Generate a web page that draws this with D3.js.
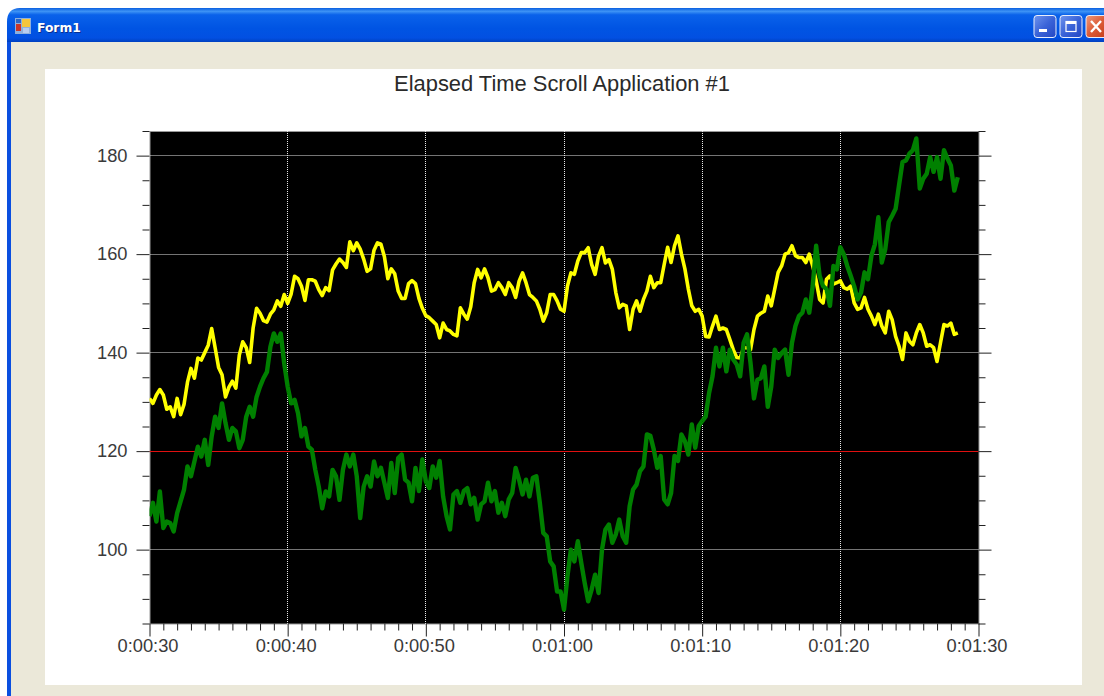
<!DOCTYPE html>
<html><head><meta charset="utf-8">
<script src="https://d3js.org/d3.v7.min.js"></script>
<style>html,body{margin:0;padding:0;background:#fff;overflow:hidden}svg{display:block}</style>
</head><body><svg id="c" width="1104" height="696"></svg>
<script>
const chartTitle = "Elapsed Time Scroll Application #1";
const windowTitle = "Form1";
const sampleStepSeconds = 0.25;
const startSeconds = 30;
const majorXTicks = [30,40,50,60,70,80,90];
const majorYTicks = [100,120,140,160,180];
const referenceLevel = 120;
const yellowValues = [130.7,129.7,131.4,132.5,131.4,128.5,129,127,130.7,127.4,129.5,134,136.8,134.8,138.9,138.5,140,141.5,144.9,141,137,135.5,131,133,134.2,132.8,139.5,142.2,141,138,
145,149,148,146.5,146.2,147.8,148.7,150.5,149.4,151.8,150,151.9,155.5,155,153.5,150.6,154.8,154.8,154.5,152.8,151.6,153.2,152.6,156.8,158,159,158.3,157.3,162.5,160.7,
162.3,161,159,156.5,157,160.8,162.3,162,159.5,155,157,156,152.5,151,151,154,154.6,154,151,149,
147.5,147.1,146.4,145.7,143,146,144.7,144.4,143.7,143.4,149.1,147.8,146.8,149.3,154.2,156.9,155.2,157,155.2,152.5,152.8,154.2,153.2,151.8,154.2,153.2,151.2,154.5,156.2,154.2,
151.8,151.2,150.5,148.8,146.4,148.1,151.8,151.8,150.5,148.8,148.4,153.5,156.2,155.9,158.6,160.3,160.3,161.3,157.9,155.9,159.6,161.3,158.2,158.9,156.9,152.2,149.1,149.8,149.5,144.7,
148.8,150.5,148.4,150.8,152.5,155.5,153.2,154.2,154.2,157.9,161.4,158.3,161.7,163.7,160,157,152.9,149.5,148.4,148.8,147.4,143.3,143.2,145.4,147.4,144.7,145,144.7,142.7,140.6,
139,138.9,141,141,140.6,144.7,147.4,148,148.4,151.5,149.5,152.9,156.3,157.6,160,160.3,161.7,159.7,159.3,159.3,158.3,160,157.6,154.6,150.8,150.1,154.9,155.6,153.9,154.2,
154.6,153.2,152.9,153.5,150.1,148.8,149.1,151.2,148.8,147.4,145.7,147.8,145.4,144,148.4,146.7,143.3,141.3,138.6,144,142.3,141.6,144,145.7,144,141.3,141.6,141,138.2,142,
145.7,145.4,146,143.7,144];
const greenValues = [106.8,109.5,105.7,111.8,104.4,105.7,105.4,103.7,107.4,109.8,112.2,116.9,114.9,117.9,120.9,118.9,122.3,117.2,123,127,124.7,129.7,125.7,122.3,124.7,124,120.6,122.3,127,129,
127,131,133.1,134.8,136.1,141.2,143.9,142.2,143.9,137.8,133.1,129.7,130.4,127.7,123,124.7,120.9,120.3,116.2,112.8,108.4,111.8,110.8,116.2,114.9,110.1,116.2,119.3,116.9,119.3,
114.9,106.4,112.8,114.9,112.8,117.9,114.9,116.6,113.6,110.5,117.6,111.5,118.6,119.3,114.2,113.6,109.8,116.6,111.9,118.3,
113.9,112.5,116.9,114.6,118,110.8,106.8,104.1,111.2,111.9,109.5,111.9,112.5,109.2,110.5,106.1,109.2,109.8,113.6,109.8,111.9,107.5,109.5,106.8,110.2,111.5,116.6,114.2,111.2,114.2,
110.8,114.6,114.9,109.5,103.4,102.7,97.6,96.6,91.5,91.5,87.8,94.6,100,97.6,101.7,97.3,93.2,89.5,91.9,94.9,91.2,100,104.1,105.1,101.4,103.1,106.1,102.7,101.4,108.8,
112.2,113.2,115.9,116.9,123.4,123.1,120.3,116.6,119,110.2,109.2,111.5,119,118,123.4,122,119.3,125.4,120.7,125.1,
126.1,127,131.8,135.2,141,137.2,141,136.2,140.6,138.6,137.6,135.2,142,143.7,137.9,130.7,134.5,134.8,137.2,129,133.1,140.6,138.9,139.9,140.6,135.5,142,145.4,147.4,148.1,
150.8,148.1,153.5,161.7,155.6,153.5,152.9,149.5,157.6,156.9,161.4,160,157.6,155.6,153.5,150.8,152.2,156.3,154.9,159.7,162,167.5,158.3,161,166.5,167.8,169.2,174,178.7,179,
180.4,181.1,183.5,173.3,175.3,176.3,179.7,176.7,179.7,175.3,181.1,179.4,178,172.9,175.6];

const svg = d3.select("#c");
const defs = svg.append("defs");
const tg = defs.append("linearGradient").attr("id","bar").attr("x1",0).attr("x2",0).attr("y1",0).attr("y2",1);
[[0,"#0a5fe0"],[0.1,"#3d93f5"],[0.2,"#0a62ea"],[0.6,"#0054e3"],[0.88,"#0250e2"],[1,"#0040c0"]].forEach(([o,c])=>tg.append("stop").attr("offset",o).attr("stop-color",c));
const bg = defs.append("linearGradient").attr("id","btn").attr("x1",0).attr("x2",1).attr("y1",0).attr("y2",1);
[[0,"#6f95ee"],[0.5,"#3a63d8"],[1,"#2347c4"]].forEach(([o,c])=>bg.append("stop").attr("offset",o).attr("stop-color",c));
const cg = defs.append("linearGradient").attr("id","cls").attr("x1",0).attr("x2",1).attr("y1",0).attr("y2",1);
[[0,"#ee9a7c"],[0.5,"#dc5a35"],[1,"#c23a1a"]].forEach(([o,c])=>cg.append("stop").attr("offset",o).attr("stop-color",c));

// window chrome
svg.append("rect").attr("width",1104).attr("height",696).attr("fill","#ffffff");
svg.append("path").attr("d","M7,696V20Q7,8 20,8H1104V696Z").attr("fill","#0a4fe0");
svg.append("rect").attr("x",7).attr("y",8).attr("width",1097).attr("height",34).attr("fill","url(#bar)");
svg.append("path").attr("d","M7,22Q7,8 20,8H7Z").attr("fill","#fff");
svg.append("rect").attr("x",11).attr("y",42).attr("width",1093).attr("height",654).attr("fill","#ebe8d9");
svg.append("rect").attr("x",45).attr("y",69).attr("width",1037).attr("height",616).attr("fill","#ffffff");

// title-bar icon
const ic = svg.append("g").attr("transform","translate(15,18)");
ic.append("rect").attr("width",16).attr("height",16).attr("fill","#8fb0dc");
ic.append("rect").attr("x",7).attr("y",1).attr("width",8).attr("height",8).attr("fill","#f5c63c");
ic.append("rect").attr("x",1).attr("y",6).attr("width",5).attr("height",7).attr("fill","#c8352a");
ic.append("rect").attr("x",1).attr("y",1).attr("width",5).attr("height",4).attr("fill","#2a66c8");
ic.append("rect").attr("x",8).attr("y",10).attr("width",6).attr("height",5).attr("fill","#b8cdf0");
svg.append("text").attr("x",37).attr("y",32).text(windowTitle).attr("font-family","'DejaVu Sans',sans-serif").attr("font-weight",700).attr("font-size",12.3).attr("fill","#0a2f90").attr("dx",1).attr("dy",1);
svg.append("text").attr("x",37).attr("y",32).text(windowTitle).attr("font-family","'DejaVu Sans',sans-serif").attr("font-weight",700).attr("font-size",12.3).attr("fill","#ffffff");

// window buttons
[[1034,"url(#btn)"],[1060,"url(#btn)"],[1086,"url(#cls)"]].forEach(([x,f])=>svg.append("rect").attr("x",x).attr("y",15.5).attr("width",22).attr("height",22).attr("rx",3).attr("fill",f).attr("stroke","#e8eefc").attr("stroke-width",1));
svg.append("rect").attr("x",1039).attr("y",29).attr("width",8).attr("height",3).attr("fill","#fff");
svg.append("rect").attr("x",1066).attr("y",21.5).attr("width",10).attr("height",10).attr("fill","none").attr("stroke","#fff").attr("stroke-width",1.2);
svg.append("rect").attr("x",1066).attr("y",21).attr("width",10).attr("height",3).attr("fill","#fff");
svg.append("path").attr("d","M1091,21L1101,32M1101,21L1091,32").attr("stroke","#fff").attr("stroke-width",2.4);

// chart
const plot = {l:149.5,r:978.5,t:131,b:623.5};
const x = d3.scaleLinear().domain([30,90]).range([plot.l,plot.r]);
const y = d3.scaleLinear().domain([85,185]).range([plot.b,plot.t]);
const fmt = s => { const m=Math.floor(s/60), r=s%60; return `0:${String(m).padStart(2,"0")}:${String(r).padStart(2,"0")}`; };
const minorX = d3.range(30,91).filter(v=>v%10!==0);
const minorY = d3.range(85,186,5).filter(v=>v%20!==0);
const textColor = "#3a3a3a";
const font = "'Liberation Sans',Arial,sans-serif";

svg.append("text").attr("x",562).attr("y",91).attr("text-anchor","middle").attr("font-family",font).attr("font-size",21.9).attr("fill","#2a2a2a").text(chartTitle);
svg.append("rect").attr("x",plot.l+0.5).attr("y",plot.t+0.5).attr("width",plot.r-plot.l).attr("height",plot.b-plot.t).attr("fill","#000").attr("stroke","#999").attr("stroke-width",1);

defs.append("clipPath").attr("id","plotclip").append("rect").attr("x",plot.l).attr("y",plot.t).attr("width",plot.r-plot.l).attr("height",plot.b-plot.t);
const gr = svg.append("g");
gr.selectAll(".gx").data(majorXTicks.slice(1,-1)).join("line").attr("x1",d=>x(d)).attr("x2",d=>x(d)).attr("y1",plot.t).attr("y2",plot.b).attr("stroke","#e8e8e8").attr("stroke-dasharray","1 1").attr("shape-rendering","crispEdges");
gr.selectAll(".gy").data(majorYTicks.filter(v=>v!==referenceLevel)).join("line").attr("x1",plot.l).attr("x2",plot.r).attr("y1",d=>Math.floor(y(d))+0.5).attr("y2",d=>Math.floor(y(d))+0.5).attr("stroke","#e8e8e8").attr("stroke-dasharray","1 1");
gr.append("line").attr("x1",plot.l).attr("x2",plot.r).attr("y1",Math.floor(y(referenceLevel))+0.5).attr("y2",Math.floor(y(referenceLevel))+0.5).attr("stroke","#e01010").attr("stroke-width",1);

const lineGen = d3.line().x((d,i)=>x(startSeconds+i*sampleStepSeconds)).y(d=>y(d)).curve(d3.curveLinear);
const lines = svg.append("g").attr("clip-path","url(#plotclip)");
lines.append("path").datum(yellowValues).attr("d",lineGen).attr("fill","none").attr("stroke","#ffff00").attr("stroke-width",3.6).attr("stroke-linejoin","round");
lines.append("path").datum(greenValues).attr("d",lineGen).attr("fill","none").attr("stroke","#008000").attr("stroke-width",4.4).attr("stroke-linejoin","round");

function styleAxis(g){ g.select(".domain").remove(); g.selectAll("line").attr("stroke","#222"); g.selectAll("text").attr("font-family",font).attr("font-size",18.3).attr("fill",textColor); }
svg.append("g").attr("transform",`translate(0,${plot.b})`).call(d3.axisBottom(x).tickValues(majorXTicks).tickFormat(fmt).tickSize(13).tickPadding(3)).call(styleAxis).selectAll("text").attr("dx",-2);
svg.append("g").attr("transform",`translate(0,${plot.b})`).call(d3.axisBottom(x).tickValues(minorX).tickFormat("").tickSize(7)).call(styleAxis);
svg.append("g").attr("transform",`translate(${plot.l},0)`).call(d3.axisLeft(y).tickValues(majorYTicks).tickFormat(d3.format("d")).tickSize(13).tickPadding(9)).call(styleAxis);
svg.append("g").attr("transform",`translate(${plot.l},0)`).call(d3.axisLeft(y).tickValues(minorY).tickFormat("").tickSize(7)).call(styleAxis);
svg.append("g").attr("transform",`translate(${plot.r},0)`).call(d3.axisRight(y).tickValues(majorYTicks).tickFormat("").tickSize(13)).call(styleAxis);
svg.append("g").attr("transform",`translate(${plot.r},0)`).call(d3.axisRight(y).tickValues(minorY).tickFormat("").tickSize(7)).call(styleAxis);
</script></body></html>
